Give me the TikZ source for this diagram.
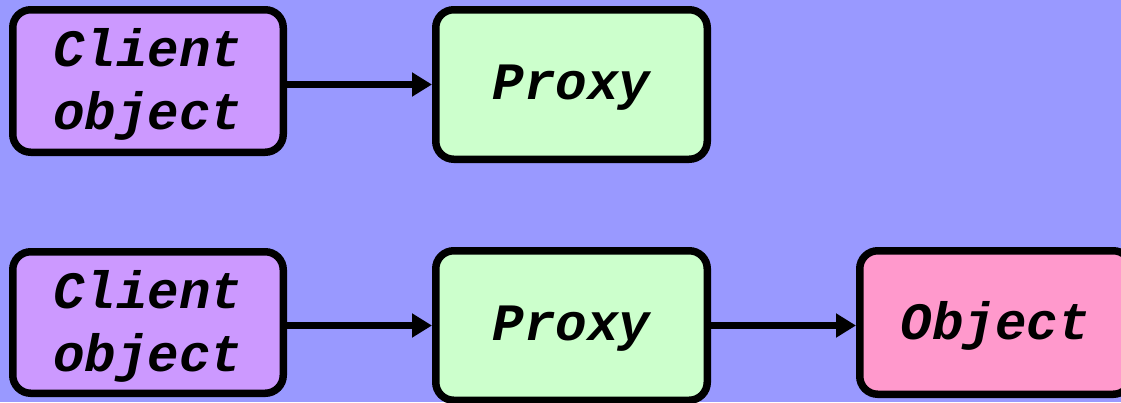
\documentclass[tikz,border=0pt]{standalone}
\usepackage{fontspec}
\setmonofont{Liberation Mono}
\usetikzlibrary{arrows.meta}
\definecolor{bg}{HTML}{9999FF}
\definecolor{clientc}{HTML}{CC99FF}
\definecolor{proxyc}{HTML}{CCFFCC}
\definecolor{objc}{HTML}{FF99CC}
\tikzset{
  box/.style={draw=black, line width=7.5pt, rounded corners=18pt, align=center,
    font=\fontsize{52.5}{63}\selectfont\ttfamily\bfseries\itshape, inner sep=0pt,
    text depth=4pt},
  conn/.style={line width=7.5pt, -{Triangle[length=20pt,width=23pt]}}
}
\begin{document}
\begin{tikzpicture}[x=1pt,y=-1pt]
\fill[bg] (0,0) rectangle (1121,402);
\useasboundingbox (0,0) rectangle (1121,402);
\node[box, fill=clientc, minimum width=270.5pt, minimum height=142.5pt] (c1) at (148,81) {Client\\object};
\node[box, fill=proxyc, minimum width=271.5pt, minimum height=149.5pt] (p1) at (571.5,84.5) {Proxy};
\node[box, fill=clientc, minimum width=270.5pt, minimum height=141.5pt] (c2) at (148,322.5) {Client\\object};
\node[box, fill=proxyc, minimum width=271.5pt, minimum height=149.5pt] (p2) at (571.5,325.5) {Proxy};
\node[box, fill=objc, minimum width=271.5pt, minimum height=143.5pt] (o) at (995.5,322.5) {Object};
\draw[conn] (c1.east |- p1.west) -- (p1.west);
\draw[conn] (c2.east |- p2.west) -- (p2.west);
\draw[conn] (p2.east) -- (o.west |- p2.east);
\end{tikzpicture}
\end{document}
